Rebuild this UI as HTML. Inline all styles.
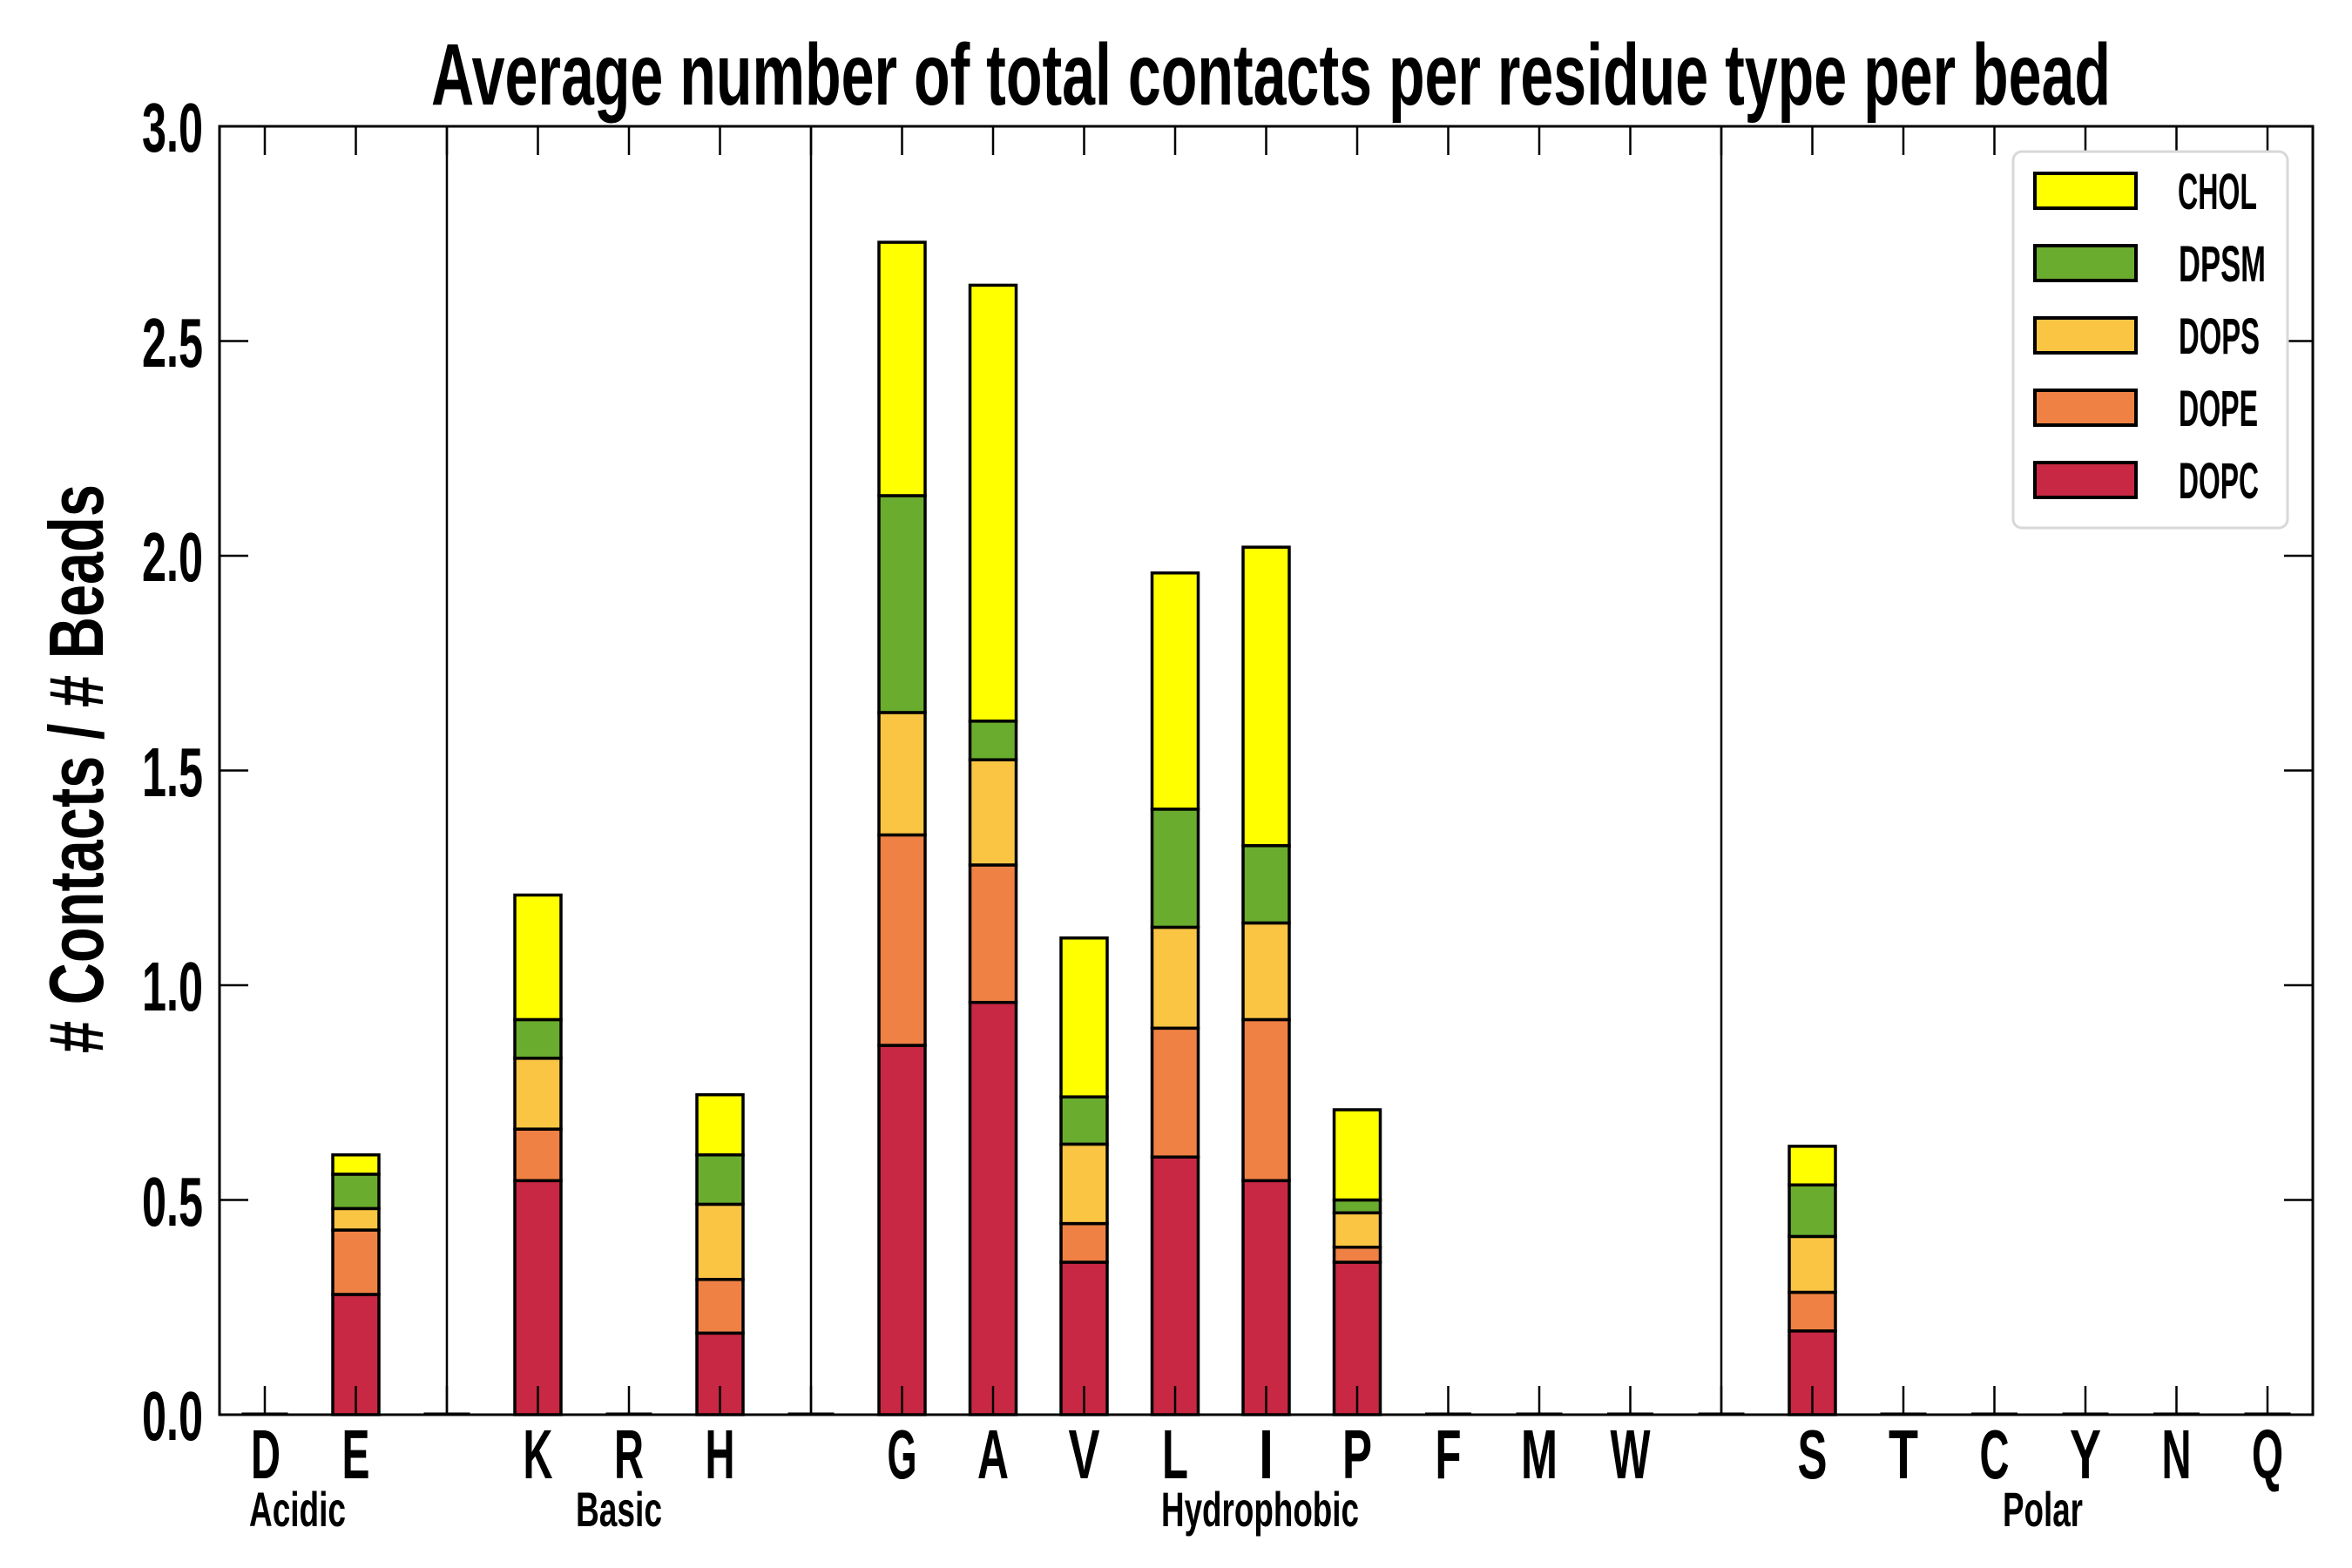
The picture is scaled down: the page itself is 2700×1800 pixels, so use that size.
<!DOCTYPE html>
<html><head><meta charset="utf-8"><style>
html,body{margin:0;padding:0;background:#fff;}
svg{display:block;}
text{font-family:"Liberation Sans",sans-serif;font-weight:bold;fill:#000;}
</style></head><body>
<svg id="s" width="2700" height="1800" viewBox="0 0 2700 1800" xmlns="http://www.w3.org/2000/svg">
<rect width="2700" height="1800" fill="#fff"/>
<g id="bars"></g>
<g id="ticks" stroke="#000" stroke-width="2.5"></g>
<rect x="252" y="145" width="2403" height="1479" fill="none" stroke="#000" stroke-width="3"/>
<!-- legend -->
<rect x="2311" y="174" width="315" height="432" rx="10" fill="#fff" stroke="#d8d8d8" stroke-width="3"/>
<g stroke="#000" stroke-width="4">
<rect x="2336" y="199" width="116" height="40" fill="#ffff00"/>
<rect x="2336" y="282" width="116" height="40" fill="#6aac2e"/>
<rect x="2336" y="365" width="116" height="40" fill="#fbc544"/>
<rect x="2336" y="448" width="116" height="40" fill="#ef8144"/>
<rect x="2336" y="531" width="116" height="40" fill="#c82843"/>
</g>
<g font-size="58">
<text x="2500" y="240" textLength="91" lengthAdjust="spacingAndGlyphs">CHOL</text>
<text x="2501" y="323" textLength="100" lengthAdjust="spacingAndGlyphs">DPSM</text>
<text x="2501" y="406" textLength="93" lengthAdjust="spacingAndGlyphs">DOPS</text>
<text x="2501" y="489" textLength="91" lengthAdjust="spacingAndGlyphs">DOPE</text>
<text x="2501" y="572" textLength="92" lengthAdjust="spacingAndGlyphs">DOPC</text>
</g>
<!-- title -->
<text x="495" y="120" font-size="100" textLength="1928" lengthAdjust="spacingAndGlyphs">Average number of total contacts per residue type per bead</text>
<!-- y label -->
<text transform="translate(118,1209) rotate(-90)" font-size="88" textLength="653" lengthAdjust="spacingAndGlyphs"># Contacts / # Beads</text>
<!-- y tick labels -->
<g font-size="80" text-anchor="end">
<text x="233" y="1653" textLength="70" lengthAdjust="spacingAndGlyphs">0.0</text>
<text x="233" y="1407" textLength="70" lengthAdjust="spacingAndGlyphs">0.5</text>
<text x="233" y="1160" textLength="70" lengthAdjust="spacingAndGlyphs">1.0</text>
<text x="233" y="914" textLength="70" lengthAdjust="spacingAndGlyphs">1.5</text>
<text x="233" y="667" textLength="70" lengthAdjust="spacingAndGlyphs">2.0</text>
<text x="233" y="421" textLength="70" lengthAdjust="spacingAndGlyphs">2.5</text>
<text x="233" y="174" textLength="70" lengthAdjust="spacingAndGlyphs">3.0</text>
</g>
<!-- x labels -->
<g font-size="80" id="xl"></g>
<g font-size="56">
<text x="286" y="1752" textLength="111" lengthAdjust="spacingAndGlyphs">Acidic</text>
<text x="661" y="1752" textLength="99" lengthAdjust="spacingAndGlyphs">Basic</text>
<text x="1333" y="1752" textLength="227" lengthAdjust="spacingAndGlyphs">Hydrophobic</text>
<text x="2299" y="1752" textLength="92" lengthAdjust="spacingAndGlyphs">Polar</text>
</g>
<g font-size="80">
<text x="288" y="1697" textLength="34" lengthAdjust="spacingAndGlyphs">D</text>
<text x="392.5" y="1697" textLength="32" lengthAdjust="spacingAndGlyphs">E</text>
<text x="600.5" y="1697" textLength="34" lengthAdjust="spacingAndGlyphs">K</text>
<text x="705" y="1697" textLength="34" lengthAdjust="spacingAndGlyphs">R</text>
<text x="809.5" y="1697" textLength="34" lengthAdjust="spacingAndGlyphs">H</text>
<text x="1018.5" y="1697" textLength="34" lengthAdjust="spacingAndGlyphs">G</text>
<text x="1122" y="1697" textLength="36" lengthAdjust="spacingAndGlyphs">A</text>
<text x="1226.5" y="1697" textLength="36" lengthAdjust="spacingAndGlyphs">V</text>
<text x="1334" y="1697" textLength="30" lengthAdjust="spacingAndGlyphs">L</text>
<text x="1445" y="1697" textLength="17" lengthAdjust="spacingAndGlyphs">I</text>
<text x="1541" y="1697" textLength="34" lengthAdjust="spacingAndGlyphs">P</text>
<text x="1647.5" y="1697" textLength="30" lengthAdjust="spacingAndGlyphs">F</text>
<text x="1746" y="1697" textLength="42" lengthAdjust="spacingAndGlyphs">M</text>
<text x="1848.5" y="1697" textLength="46" lengthAdjust="spacingAndGlyphs">W</text>
<text x="2063.5" y="1697" textLength="34" lengthAdjust="spacingAndGlyphs">S</text>
<text x="2168" y="1697" textLength="34" lengthAdjust="spacingAndGlyphs">T</text>
<text x="2272.5" y="1697" textLength="34" lengthAdjust="spacingAndGlyphs">C</text>
<text x="2376" y="1697" textLength="36" lengthAdjust="spacingAndGlyphs">Y</text>
<text x="2481.5" y="1697" textLength="34" lengthAdjust="spacingAndGlyphs">N</text>
<text x="2585" y="1697" textLength="36" lengthAdjust="spacingAndGlyphs">Q</text>
</g>
<script>
(function(){
var ns="http://www.w3.org/2000/svg";
function Y(v){return 1624-493*v;}
function X(i){return 304+104.5*i;}
var cols=["#c82843","#ef8144","#fbc544","#6aac2e","#ffff00"];
var data={1:[.28,.43,.48,.56,.605],3:[.545,.665,.83,.92,1.21],5:[.19,.315,.49,.605,.745],
7:[.86,1.35,1.635,2.14,2.73],8:[.96,1.28,1.525,1.615,2.63],9:[.355,.445,.63,.74,1.11],
10:[.60,.90,1.135,1.41,1.96],11:[.545,.92,1.145,1.325,2.02],12:[.355,.39,.47,.50,.71],
17:[.195,.285,.415,.535,.625]};
var bars=document.getElementById("bars"),ticks=document.getElementById("ticks");
function el(n,a,p){var e=document.createElementNS(ns,n);for(var k in a)e.setAttribute(k,a[k]);p.appendChild(e);return e;}
for(var i=0;i<23;i++){
 var cx=X(i);
 if(data[i]){var prev=0;for(var j=0;j<5;j++){var v=data[i][j];
  el("rect",{x:cx-26.5,y:Y(v),width:53,height:Y(prev)-Y(v),fill:cols[j],stroke:"#000","stroke-width":3.5},bars);prev=v;}}
 else el("line",{x1:cx-26.5,y1:1623,x2:cx+26.5,y2:1623,stroke:"#000","stroke-width":3},bars);
 el("line",{x1:cx,y1:145,x2:cx,y2:178},ticks);
 el("line",{x1:cx,y1:1624,x2:cx,y2:1591},ticks);
}
[2,6,16].forEach(function(i){el("line",{x1:X(i),y1:145,x2:X(i),y2:1624,stroke:"#000","stroke-width":2.5},bars);});
for(var k=1;k<6;k++){var y=Y(k*0.5);
 el("line",{x1:252,y1:y,x2:285,y2:y},ticks);el("line",{x1:2655,y1:y,x2:2622,y2:y},ticks);}
})();
</script>
</svg>
</body></html>
